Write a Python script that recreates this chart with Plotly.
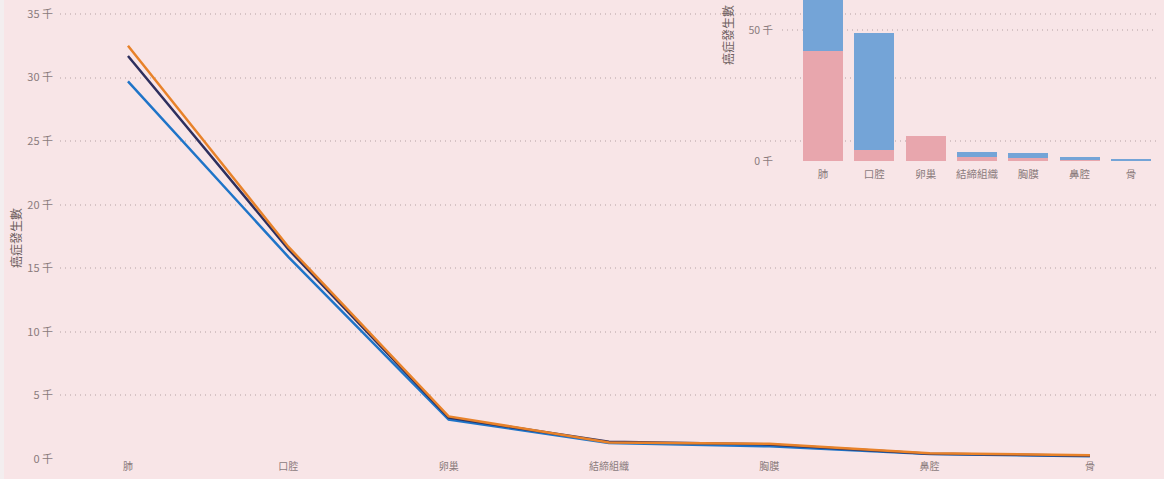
import plotly.graph_objects as go

categories = ["肺", "口腔", "卵巢", "結締組織", "胸膜", "鼻腔", "骨"]

# main line chart (three series)
series_orange = [32500, 16700, 3350, 1300, 1200, 450, 300]
series_navy = [31700, 16500, 3250, 1350, 1150, 420, 260]
series_blue = [29700, 15900, 3100, 1250, 1000, 400, 220]

# inset stacked bar chart
bar_pink = [42000, 4200, 9500, 1500, 1100, 300, 200]
bar_blue = [22000, 44700, 0, 1900, 1900, 1200, 600]

main_tickvals = [0, 5000, 10000, 15000, 20000, 25000, 30000, 35000]
main_ticktext = ["0 千", "5 千", "10 千", "15 千", "20 千", "25 千", "30 千", "35 千"]
inset_tickvals = [0, 50000]
inset_ticktext = ["0 千", "50 千"]

W, H = 1164, 479
BG = "#f8e5e7"
TXT = "#8a7b7c"
GRID = "#d6c3c5"
FONT = "Noto Sans CJK TC"

fig = go.Figure()

fig.add_trace(go.Scatter(x=categories, y=series_blue, mode="lines",
                         line=dict(color="#1f74c8", width=2.5), xaxis="x", yaxis="y"))
fig.add_trace(go.Scatter(x=categories, y=series_navy, mode="lines",
                         line=dict(color="#2e2f5e", width=2.5), xaxis="x", yaxis="y"))
fig.add_trace(go.Scatter(x=categories, y=series_orange, mode="lines",
                         line=dict(color="#e8822a", width=2.5), xaxis="x", yaxis="y"))

fig.add_trace(go.Bar(x=categories, y=bar_pink, marker=dict(color="#e8a6ad", line=dict(width=0)),
                     xaxis="x2", yaxis="y2"))
fig.add_trace(go.Bar(x=categories, y=bar_blue, marker=dict(color="#74a4d7", line=dict(width=0)),
                     xaxis="x2", yaxis="y2"))

fig.update_layout(
    width=W, height=H,
    margin=dict(l=0, r=0, t=0, b=0),
    paper_bgcolor=BG, plot_bgcolor="rgba(0,0,0,0)",
    showlegend=False,
    barmode="stack", bargap=0.22,
    font=dict(family=FONT, color=TXT, size=11),
    xaxis=dict(domain=[60 / W, 1160 / W], range=[-0.424, 6.437], type="category",
               showgrid=False, zeroline=False, showline=False, ticks="",
               tickfont=dict(size=10, color=TXT), automargin=False),
    yaxis=dict(domain=[20 / H, 1], range=[0, 36100], tickvals=main_tickvals, ticktext=main_ticktext,
               showgrid=True, gridcolor=GRID, griddash="1px,4px", gridwidth=1.5,
               zeroline=False, showline=False, ticks="", ticklabelstandoff=6,
               tickfont=dict(size=11, color=TXT), automargin=False),
    xaxis2=dict(domain=[782 / W, 1155 / W], range=[-0.8, 6.47], type="category", anchor="y2",
                showgrid=False, zeroline=False, showline=False, ticks="", ticklabelstandoff=5,
                tickfont=dict(size=10.5, color=TXT), automargin=False),
    yaxis2=dict(domain=[(H - 161) / H, 1], range=[0, 61450], anchor="x2",
                tickvals=inset_tickvals, ticktext=inset_ticktext,
                showgrid=True, gridcolor=GRID, griddash="1px,4px", gridwidth=1.5,
                zeroline=False, showline=False, ticks="", ticklabelstandoff=8,
                tickfont=dict(size=10.5, color=TXT), automargin=False),
    annotations=[
        dict(text="癌症發生數", x=15 / W, y=(H - 238) / H, xref="paper", yref="paper",
             textangle=-90, showarrow=False, font=dict(size=12, color="#6e5f60", family=FONT),
             xanchor="center", yanchor="middle"),
        dict(text="癌症發生數", x=728 / W, y=(H - 35) / H, xref="paper", yref="paper",
             textangle=-90, showarrow=False, font=dict(size=12, color="#6e5f60", family=FONT),
             xanchor="center", yanchor="middle"),
    ],
    shapes=[
        dict(type="rect", xref="paper", yref="paper", x0=0, x1=4 / W, y0=0, y1=1,
             fillcolor="#f3eeef", line=dict(width=0), layer="below"),
    ],
)

fig.write_html(
    "out.html",
    config={"displayModeBar": False},
    post_script="document.body.style.margin='0';document.body.style.padding='0';"
                "document.body.style.background='#f8e5e7';document.body.style.overflow='hidden';",
)
